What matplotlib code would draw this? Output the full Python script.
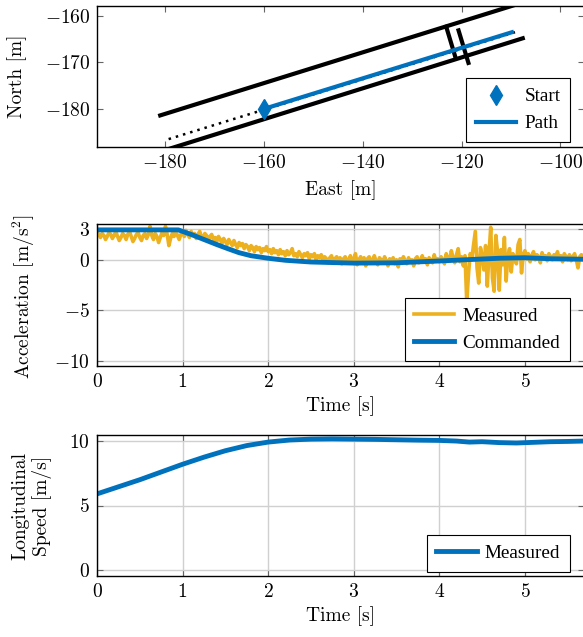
import numpy as np
import matplotlib
matplotlib.use('Agg')
import matplotlib.pyplot as plt
from matplotlib.font_manager import FontProperties

plt.rcParams['font.family'] = 'serif'
plt.rcParams['font.serif'] = ['cmr10']
plt.rcParams['mathtext.fontset'] = 'cm'
plt.rcParams['axes.formatter.use_mathtext'] = True
plt.rcParams['axes.unicode_minus'] = True

BLUE = '#0072BD'
YELLOW = '#EDB120'

# ---- top: lane and path (East / North, m)
lane_upper_x = [-181.0, -107.6]
lane_upper_y = [-181.4, -157.1]
lane_lower_x = [-181.0, -107.6]
lane_lower_y = [-189.2, -164.8]
center_x = [-179.3, -108.3]
center_y = [-186.5, -163.2]
stop1_x = [-123.1, -121.2]
stop1_y = [-162.3, -169.0]
stop2_x = [-120.6, -118.6]
stop2_y = [-163.1, -170.1]
path_x = [-160.0, -109.8]
path_y = [-180.0, -163.5]
start_x = [-160.0]
start_y = [-180.0]

# ---- middle: acceleration
cmd_t = [0.0, 0.95, 1.1, 1.25, 1.4, 1.54, 1.66, 1.8, 2.0, 2.2, 2.5, 3.0, 3.5,
         4.0, 4.3, 4.7, 5.0, 5.3, 5.69]
cmd_a = [2.95, 2.95, 2.5, 2.0, 1.5, 1.06, 0.7, 0.4, 0.15, -0.05, -0.22, -0.33,
         -0.3, -0.12, 0.0, 0.15, 0.2, 0.1, 0.05]

meas_dt = 0.02
meas_a = [
    2.7, 2.5, 2.2, 2.6, 2.4, 2.0, 2.3, 2.7, 2.5, 2.1,
    2.4, 2.8, 2.3, 1.9, 2.2, 2.6, 2.4, 2.0, 2.5, 2.8,
    2.3, 1.8, 2.1, 2.5, 2.7, 2.2, 1.9, 2.4, 2.6, 2.1,
    2.5, 3.3, 2.4, 2.0, 2.6, 2.3, 1.7, 2.2, 2.7, 2.4,
    3.3, 2.5, 1.4, 2.1, 2.6, 2.3, 2.8, 2.4, 2.0, 2.5,
    2.7, 2.3, 2.9, 2.5, 2.2, 2.8, 2.4, 2.6, 2.1, 2.5,
    2.8, 2.3, 2.0, 2.6, 2.4, 1.9, 2.3, 2.5, 2.0, 2.2,
    1.8, 2.3, 2.0, 1.6, 2.1, 1.8, 1.5, 2.0, 1.7, 1.4,
    1.9, 1.5, 1.2, 1.7, 1.4, 1.6, 1.1, 1.5, 1.3, 0.9,
    1.4, 1.2, 0.8, 1.3, 1.0, 1.2, 0.7, 1.1, 0.9, 1.3,
    0.8, 1.0, 0.6, 1.1, 0.7, 0.9, 0.5, 1.0, 0.6, 0.8,
    0.4, 0.9, 0.5, 0.7, 1.1, 0.4, 0.6, 0.3, 0.8, 0.5,
    0.2, 0.6, 0.4, 0.7, 0.1, 0.5, 0.3, 0.6, 0.0, 0.4,
    0.2, 0.5, -0.1, 0.3, 0.1, -0.3, 0.2, 0.4, -0.2, 0.1,
    0.3, -0.1, 0.2, -0.4, 0.1, 0.3, -0.2, 0.0, 0.4, -0.3,
    0.1, 0.6, -0.5, 0.0, 0.3, -0.2, 0.2, -0.6, 0.1, 0.3,
    -0.3, 0.0, 0.4, -0.1, -0.5, 0.2, 0.0, -0.3, 0.3, -0.1,
    -0.6, 0.1, -0.2, 0.2, -0.4, 0.0, -0.7, 0.1, -0.2, 0.3,
    -0.1, -0.4, 0.2, -0.2, 0.0, -0.6, 0.1, 0.3, -0.3, 0.0,
    0.4, -0.2, 0.1, -0.5, 0.2, 0.0, -0.3, 0.5, -0.1, 0.1,
    -0.2, 0.3, 0.0, -0.4, 0.6, 0.1, -0.1, 0.9, 0.2, -0.3,
    0.5, 1.1, -0.2, 0.3, -0.6, 0.4, -4.2, -1.5, 0.6, 0.2,
    1.5, 2.8, -0.8, -2.3, 1.2, 0.4, -1.0, 1.4, -2.6, 0.6,
    3.2, -1.8, -3.1, 2.4, 0.8, -3.0, 1.0, -0.5, 2.2, -2.1,
    0.3, 1.1, -1.2, 0.6, 0.2, -0.4, 1.5, 2.0, -1.3, 0.5,
    0.9, 0.1, 0.6, -0.2, 0.4, 0.8, 0.0, 0.5, 0.3, -0.3,
    0.7, 0.2, 0.4, -0.1, 0.6, 0.3, 0.0, 0.5, 0.2, 0.8,
    0.1, 0.4, -0.2, 0.6, 0.3, 0.0, 0.5, -0.1, 0.3, 0.6,
    0.0, -0.8, 0.3, 0.5, 0.2,
]
meas_t = np.arange(len(meas_a)) * meas_dt

# ---- bottom: longitudinal speed
spd_t = [0, 0.25, 0.5, 0.75, 1.0, 1.25, 1.5, 1.75, 2.0, 2.25, 2.5, 2.75, 3.0,
         3.25, 3.5, 3.75, 4.0, 4.2, 4.35, 4.5, 4.7, 4.9, 5.1, 5.3, 5.5, 5.69]
spd_v = [5.9, 6.45, 7.0, 7.6, 8.2, 8.75, 9.25, 9.65, 9.92, 10.08, 10.15, 10.17,
         10.15, 10.13, 10.1, 10.07, 10.05, 10.0, 9.92, 9.95, 9.88, 9.85, 9.9,
         9.95, 9.97, 10.0]

W, H = 583, 637
fig = plt.figure(figsize=(W / 100, H / 100), dpi=100)


def box(left, top, right, bottom):
    return [left / W, 1 - bottom / H, (right - left) / W, (bottom - top) / H]


ax1 = fig.add_axes(box(97, 6, 584, 147))
ax2 = fig.add_axes(box(97, 224, 584, 366))
ax3 = fig.add_axes(box(97, 435, 584, 576))

FS = 14

for ax in (ax1, ax2, ax3):
    ax.tick_params(direction='in', top=True, right=True, length=4.5, width=0.8,
                   color='#666666', labelsize=FS, pad=5)
    for s in ax.spines.values():
        s.set_linewidth(1.0)

# top
ax1.plot(lane_upper_x, lane_upper_y, color='k', lw=3)
ax1.plot(lane_lower_x, lane_lower_y, color='k', lw=3)
ax1.plot(stop1_x, stop1_y, color='k', lw=3)
ax1.plot(stop2_x, stop2_y, color='k', lw=3)
ax1.plot(center_x, center_y, color='k', lw=1.8, dashes=(1, 2))
ax1.plot(start_x, start_y, 'd', color=BLUE, ms=10, label='Start')
ax1.plot(path_x, path_y, color=BLUE, lw=3, label='Path')
ax1.set_xlim(-193.8, -95.2)
ax1.set_ylim(-188.2, -157.85)
ax1.set_xticks([-180, -160, -140, -120, -100])
ax1.set_yticks([-180, -170, -160])
ax1.set_xlabel('East [m]', fontsize=FS, labelpad=6)
ax1.set_ylabel('North [m]', fontsize=FS)
ax1.yaxis.set_label_coords(-0.144, 0.5)

# middle
ax2.plot(meas_t, meas_a, color=YELLOW, lw=2.6, label='Measured')
ax2.plot(cmd_t, cmd_a, color=BLUE, lw=3.5, label='Commanded')
ax2.set_xlim(0, 5.69)
ax2.set_ylim(-10.48, 3.53)
ax2.set_xticks([0, 1, 2, 3, 4, 5])
ax2.set_yticks([-10, -5, 0, 3])
ax2.grid(True, color='#d0d0d0', lw=1.0)
ax2.set_axisbelow(True)
ax2.set_xlabel('Time [s]', fontsize=FS, labelpad=4)
ax2.set_ylabel('Acceleration [m/s$^2$]', fontsize=FS)
ax2.yaxis.set_label_coords(-0.123, 0.49)

# bottom
ax3.plot(spd_t, spd_v, color=BLUE, lw=3.5, label='Measured')
ax3.set_xlim(0, 5.69)
ax3.set_ylim(-0.47, 10.47)
ax3.set_xticks([0, 1, 2, 3, 4, 5])
ax3.set_yticks([0, 5, 10])
ax3.grid(True, color='#d0d0d0', lw=1.0)
ax3.set_axisbelow(True)
ax3.set_xlabel('Time [s]', fontsize=FS, labelpad=4)
ax3.set_ylabel('Longitudinal\nSpeed [m/s]', fontsize=FS)
ax3.yaxis.set_label_coords(-0.092, 0.5)

leg_font = FontProperties(family=['Liberation Serif', 'DejaVu Serif'], size=13.8)
for ax, yb in ((ax1, 0.035), (ax2, 0.033), (ax3, 0.03)):
    leg = ax.legend(loc='lower right', bbox_to_anchor=(0.971, yb),
                    borderaxespad=0, prop=leg_font, fancybox=False,
                    framealpha=1, edgecolor='k', handlelength=2.1,
                    handletextpad=0.42, borderpad=0.5, labelspacing=0.5)
    leg.get_frame().set_linewidth(0.8)

fig.savefig('out.png', dpi=100)
